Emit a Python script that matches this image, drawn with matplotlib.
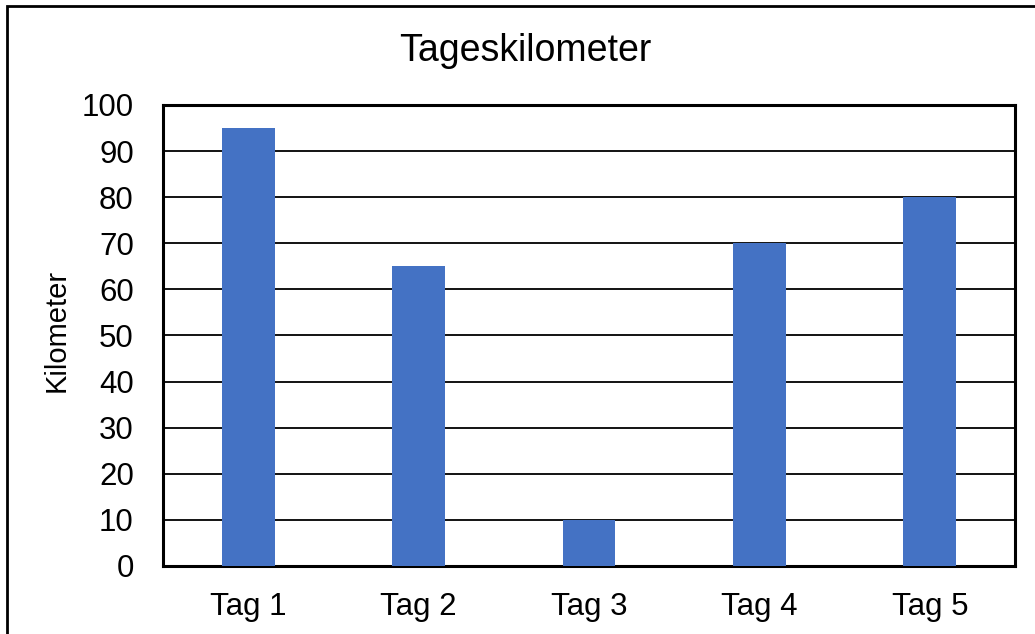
import matplotlib
matplotlib.use('Agg')
from matplotlib import pyplot as plt
from matplotlib.patches import Rectangle

tage = ['Tag 1', 'Tag 2', 'Tag 3', 'Tag 4', 'Tag 5']
kilometer = [95, 65, 10, 70, 80]
y_ticks = [0, 10, 20, 30, 40, 50, 60, 70, 80, 90, 100]

plt.rcParams['font.family'] = ['Liberation Sans', 'DejaVu Sans']

fig = plt.figure(figsize=(10.35, 6.34), dpi=100)
ax = fig.add_axes([0.1575, 0.1073, 0.8232, 0.7271])

x = range(len(tage))
ax.bar(x, kilometer, width=0.31, color='#4472C4', zorder=3)

ax.set_xlim(-0.5, len(tage) - 0.5)
ax.set_ylim(0, 100)
ax.set_yticks(y_ticks)
ax.set_xticks(list(x))
ax.set_xticklabels(tage)
ax.tick_params(axis='both', length=0, labelsize=22.5)
ax.tick_params(axis='y', pad=21)
ax.tick_params(axis='x', pad=19)
ax.grid(axis='y', color='black', linewidth=1.3, zorder=0)
for s in ax.spines.values():
    s.set_linewidth(2.2)
    s.set_color('black')

ax.set_ylabel('Kilometer', fontsize=21)
ax.yaxis.set_label_coords(-0.108, 0.512)

fig.text(525 / 1035, 1 - 51 / 634, 'Tageskilometer', fontsize=27,
         ha='center', va='center')

# Rahmen um das Diagramm
fig.patches.append(Rectangle((7 / 1035, -0.05), 1.1, 1.05 - 6 / 634,
                             transform=fig.transFigure, fill=False,
                             edgecolor='black', linewidth=2))

plt.savefig('out.png', dpi=100)
